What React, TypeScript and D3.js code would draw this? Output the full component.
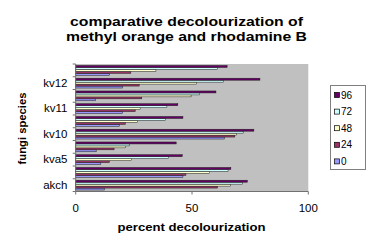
import React, { useEffect, useRef } from "react";
import * as d3 from "d3";

const categories = ["akch", "ak2", "kva5", "kva6", "kv10", "kv10b", "kv11", "kv11b", "kv12", "kv13"];
const shownLabels = ["akch", "kva5", "kv10", "kv11", "kv12"];
const seriesNames = ["0", "24", "48", "72", "96"];
const s0 = [12.3, 46.1, 10.8, 8.8, 63.9, 18.8, 20.2, 8.5, 20.2, 14.5];
const s24 = [61.0, 47.4, 14.5, 16.5, 68.4, 21.4, 25.6, 28.4, 27.3, 23.7];
const s48 = [66.5, 57.6, 24.0, 21.5, 69.1, 26.6, 27.7, 49.6, 51.9, 34.5];
const s72 = [71.6, 65.5, 39.9, 23.0, 72.0, 38.6, 39.2, 53.3, 63.6, 61.0];
const s96 = [73.8, 66.7, 45.8, 43.2, 76.6, 46.1, 43.9, 60.3, 79.2, 65.1];
const seriesValues = [s0, s24, s48, s72, s96];
const seriesColors = ["#9999FF", "#993366", "#FFFFCC", "#CCFFFF", "#660066"];
const xTicks = [0, 50, 100];

const W = 380;
const H = 252;
const FONT = "'Liberation Sans', Arial, sans-serif";

export default function App() {
  const ref = useRef<SVGSVGElement>(null);

  useEffect(() => {
    const svg = d3.select(ref.current);
    svg.selectAll("*").remove();

    const left = 75.7, right = 308.3, top = 64, bottom = 191.5;

    const x = d3.scaleLinear().domain([0, 100]).range([left, right]);
    const p = 1.5 / 6.5;
    const y = d3
      .scaleBand<string>()
      .domain([...categories].reverse())
      .range([top, bottom])
      .paddingInner(p)
      .paddingOuter(p / 2);
    const ySub = d3
      .scaleBand<string>()
      .domain([...seriesNames].reverse())
      .range([0, y.bandwidth()]);

    // plot area
    svg.append("rect")
      .attr("x", left).attr("y", top)
      .attr("width", right - left).attr("height", bottom - top)
      .attr("fill", "#C0C0C0");

    // bars
    seriesNames.forEach((s, si) => {
      svg.append("g")
        .selectAll("rect")
        .data(seriesValues[si])
        .join("rect")
        .attr("x", x(0))
        .attr("y", (_, i) => (y(categories[i]) as number) + (ySub(s) as number))
        .attr("width", (v) => x(v) - x(0))
        .attr("height", ySub.bandwidth())
        .attr("fill", seriesColors[si])
        .attr("stroke", "#1a1a1a")
        .attr("stroke-width", 0.5);
    });

    // axes lines
    const axisColor = "#707070";
    svg.append("line")
      .attr("x1", left).attr("x2", left).attr("y1", top).attr("y2", bottom)
      .attr("stroke", axisColor).attr("stroke-width", 1);
    svg.append("line")
      .attr("x1", left).attr("x2", right).attr("y1", bottom).attr("y2", bottom)
      .attr("stroke", axisColor).attr("stroke-width", 1);

    // y ticks at group boundaries
    const step = y.step();
    const boundaries = d3.range(categories.length + 1).map((i) => top + i * step);
    svg.append("g").selectAll("line").data(boundaries).join("line")
      .attr("x1", left - 3).attr("x2", left)
      .attr("y1", (d) => d).attr("y2", (d) => d)
      .attr("stroke", axisColor);

    // y labels (every other)
    const lx = 67.5;
    svg.append("g").selectAll("text")
      .data(categories.filter((c) => shownLabels.includes(c)))
      .join("text")
      .attr("text-anchor", "end")
      .attr("font-family", FONT)
      .attr("font-size", 10)
      .attr("fill", "#000")
      .attr("transform", (c) => {
        const yy = (y(c) as number) + y.bandwidth() / 2 + 3.6;
        return `translate(${lx},${yy}) scale(1.15,1)`;
      })
      .text((c) => c);

    // x ticks
    svg.append("g").selectAll("line").data(xTicks).join("line")
      .attr("x1", (d) => x(d)).attr("x2", (d) => x(d))
      .attr("y1", bottom).attr("y2", bottom + 3)
      .attr("stroke", axisColor);
    svg.append("g").selectAll("text").data(xTicks).join("text")
      .attr("text-anchor", "middle")
      .attr("font-family", FONT)
      .attr("font-size", 10)
      .attr("transform", (d) => `translate(${x(d)},212) scale(1.15,1)`)
      .text((d) => String(d));

    // x axis title
    svg.append("text")
      .attr("x", 191.5).attr("y", 231)
      .attr("text-anchor", "middle")
      .attr("font-family", FONT)
      .attr("font-weight", "bold")
      .attr("font-size", 10)
      .attr("textLength", 148)
      .attr("lengthAdjust", "spacingAndGlyphs")
      .text("percent decolourization");

    // y axis title
    svg.append("text")
      .attr("transform", "translate(25.5,128.5) rotate(-90)")
      .attr("text-anchor", "middle")
      .attr("font-family", FONT)
      .attr("font-weight", "bold")
      .attr("font-size", 10)
      .attr("textLength", 72)
      .attr("lengthAdjust", "spacingAndGlyphs")
      .text("fungi species");

    // title
    const titleLines = ["comparative decolourization of", "methyl orange and rhodamine B"];
    const titleLens = [233, 241];
    titleLines.forEach((t, i) => {
      svg.append("text")
        .attr("x", 186.5).attr("y", 26 + i * 14.8)
        .attr("text-anchor", "middle")
        .attr("font-family", FONT)
        .attr("font-weight", "bold")
        .attr("font-size", 13.5)
        .attr("textLength", titleLens[i])
        .attr("lengthAdjust", "spacingAndGlyphs")
        .text(t);
    });

    // legend
    const lg = svg.append("g");
    lg.append("rect")
      .attr("x", 330.5).attr("y", 85.5).attr("width", 35).attr("height", 84)
      .attr("fill", "#fff").attr("stroke", "#808080").attr("stroke-width", 1);
    const legendOrder = [...seriesNames].reverse();
    legendOrder.forEach((s, i) => {
      const cy = 95 + i * 16.6;
      const si = seriesNames.indexOf(s);
      lg.append("rect")
        .attr("x", 334.5).attr("y", cy - 2.5).attr("width", 5).attr("height", 5)
        .attr("fill", seriesColors[si]).attr("stroke", "#000").attr("stroke-width", 0.7);
      lg.append("text")
        .attr("x", 341).attr("y", cy + 3.5)
        .attr("font-family", FONT)
        .attr("font-size", 10)
        .text(s);
    });
  }, []);

  return (
    <svg
      ref={ref}
      width={W}
      height={H}
      style={{ position: "absolute", left: 0, top: 0, background: "#fff", display: "block" }}
    />
  );
}
